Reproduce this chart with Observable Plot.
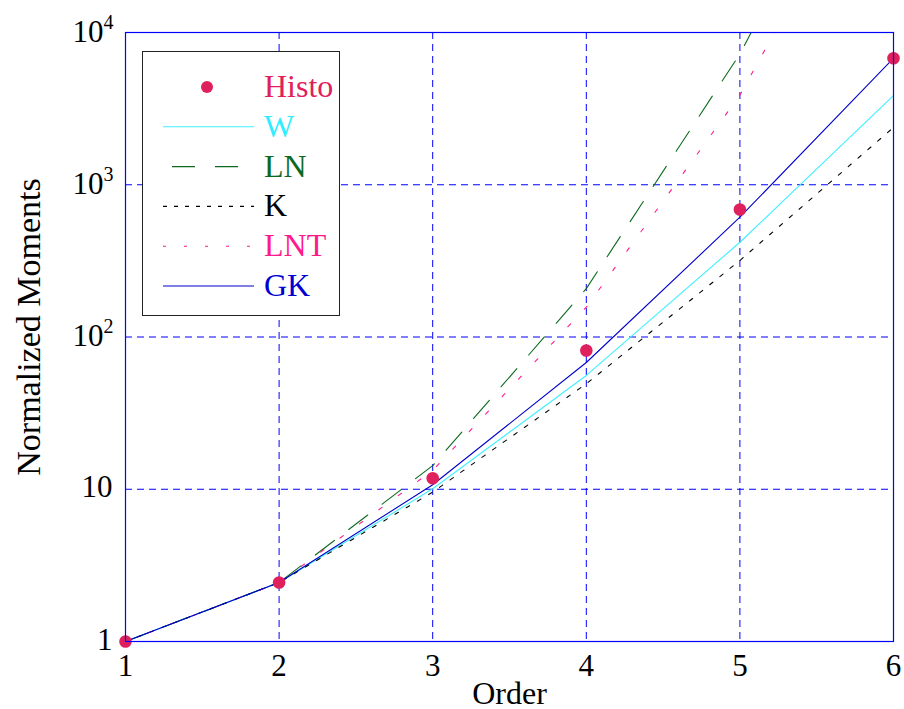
<!DOCTYPE html>
<html>
<head>
<meta charset="utf-8">
<script src="https://cdn.jsdelivr.net/npm/d3@7"></script>
<script src="https://cdn.jsdelivr.net/npm/@observablehq/plot@0.6"></script>
<style>
  html, body { margin: 0; padding: 0; background: #fff; }
  #wrap { position: relative; width: 904px; height: 709px; }
  #legend { position: absolute; left: 142px; top: 51px; width: 198px; height: 265px;
            border: 1px solid #222; background: #fff; box-sizing: border-box; }
</style>
</head>
<body>
<div id="wrap"><div id="chart"></div><div id="legend"></div></div>
<script>
// ---- data ----
const orders = [1, 2, 3, 4, 5, 6];
const histo = [1, 2.44, 11.8, 81.5, 688, 6780];
const seriesW = [1, 2.44, 10.07, 55.9, 419, 3860];
const seriesLN = [1, 2.44, 14.3, 208, 7230, 600000];
const seriesK = [1, 2.44, 9.57, 49.3, 318, 2380];
const seriesLNT = [1, 2.44, 13.3, 157, 3885, 260000];
const seriesGK = [1, 2.44, 10.7, 68, 612, 6780];

const xTicks = [1, 2, 3, 4, 5, 6];
const xTickLabels = ["1", "2", "3", "4", "5", "6"];
const yTicks = [1, 10, 100, 1000, 10000];
const yTickBase = ["1", "10", "10", "10", "10"];
const yTickExp = ["", "", "2", "3", "4"];

const seriesNames = ["Histo", "W", "LN", "K", "LNT", "GK"];
const seriesColors = ["#e0205c", "#40f0ff", "#0b6a1e", "#000000", "#ff1a8c", "#0000cc"];
const textColors = ["#e0205c", "#30eeff", "#0b6a1e", "#000000", "#ff1a8c", "#0000d0"];
const seriesDash = [null, null, "24,18", "4,9", "4,20", null];

// ---- build ----
const FONT = '"Liberation Serif", "Times New Roman", serif';
const lineSeries = [
  {name: "W", values: seriesW},
  {name: "LN", values: seriesLN},
  {name: "K", values: seriesK},
  {name: "LNT", values: seriesLNT},
  {name: "GK", values: seriesGK}
];
const lineMarks = lineSeries.map(s => {
  const i = seriesNames.indexOf(s.name);
  const data = orders.map((o, j) => ({order: o, value: s.values[j]}));
  return Plot.line(data, {
    x: "order", y: "value", stroke: seriesColors[i], strokeWidth: 1.1,
    strokeDasharray: seriesDash[i] || undefined, clip: true
  });
});
const histoData = orders.map((o, j) => ({order: o, value: histo[j]}));
const yTickData = yTicks.map((v, i) => ({v, base: yTickBase[i], exp: yTickExp[i]}));
const xTickData = xTicks.map((v, i) => ({v, label: xTickLabels[i]}));

const chart = Plot.plot({
  width: 904, height: 709,
  marginLeft: 125, marginRight: 11, marginTop: 32, marginBottom: 68,
  style: {fontFamily: FONT, background: "#fff", overflow: "visible"},
  x: {domain: [1, 6], axis: null},
  y: {type: "log", domain: [1, 10000], axis: null},
  marks: [
    Plot.ruleX(xTicks, {stroke: "#0000ff", strokeDasharray: "7,5", strokeWidth: 1}),
    Plot.ruleY(yTicks, {stroke: "#0000ff", strokeDasharray: "7,5", strokeWidth: 1}),
    ...lineMarks,
    Plot.dot(histoData, {x: "order", y: "value", r: 6.3, fill: seriesColors[0], stroke: "none", clip: false}),
    Plot.frame({stroke: "#0000ff", strokeWidth: 1.2}),
    // x tick labels
    Plot.text(xTickData, {x: "v", y: () => 1, text: "label", dy: 34, lineAnchor: "bottom",
      textAnchor: "middle", fontSize: 31, fill: "#000"}),
    // y tick labels (plain)
    Plot.text(yTickData.filter(d => d.exp === ""), {x: () => 1, y: "v", text: "base", lineAnchor: "bottom",
      textAnchor: "end", dx: -13, dy: 8, fontSize: 31, fill: "#000"}),
    // y tick labels (power of ten: base + superscript)
    Plot.text(yTickData.filter(d => d.exp !== ""), {x: () => 1, y: "v", text: "base", lineAnchor: "bottom",
      textAnchor: "end", dx: -22, dy: 9, fontSize: 31, fill: "#000"}),
    Plot.text(yTickData.filter(d => d.exp !== ""), {x: () => 1, y: "v", text: "exp", lineAnchor: "bottom",
      textAnchor: "start", dx: -22, dy: -4, fontSize: 20, fill: "#000"}),
    // axis labels
    Plot.text(["Order"], {frameAnchor: "bottom", text: d => d, dy: 62, lineAnchor: "bottom",
      textAnchor: "middle", fontSize: 32, fill: "#000"}),
    Plot.text(["Normalized Moments"], {frameAnchor: "left", text: d => d, rotate: -90, dx: -86, dy: -10,
      lineAnchor: "bottom", textAnchor: "middle", fontSize: 34, fill: "#000"})
  ]
});
document.getElementById("chart").appendChild(chart);

// ---- legend ----
const lg = d3.select("#legend").append("svg").attr("width", 196).attr("height", 263)
  .style("font-family", FONT);
const rowY0 = 35, rowStep = 39.8;
seriesNames.forEach((name, i) => {
  const y = rowY0 + i * rowStep;
  if (name === "Histo") {
    lg.append("circle").attr("cx", 64).attr("cy", y).attr("r", 6).attr("fill", seriesColors[i]);
  } else {
    lg.append("line").attr("x1", 20).attr("x2", 111).attr("y1", y).attr("y2", y)
      .attr("stroke", seriesColors[i]).attr("stroke-width", 1.1)
      .attr("stroke-dasharray", name === "LN" ? "23,20" : name === "K" ? "4,7" : name === "LNT" ? "3,18" : null)
      .attr("stroke-dashoffset", name === "LN" ? -9 : 0);
  }
  lg.append("text").attr("x", 121).attr("y", y + 10).attr("font-size", 32)
    .attr("fill", textColors[i]).text(name);
});
</script>
</body>
</html>
